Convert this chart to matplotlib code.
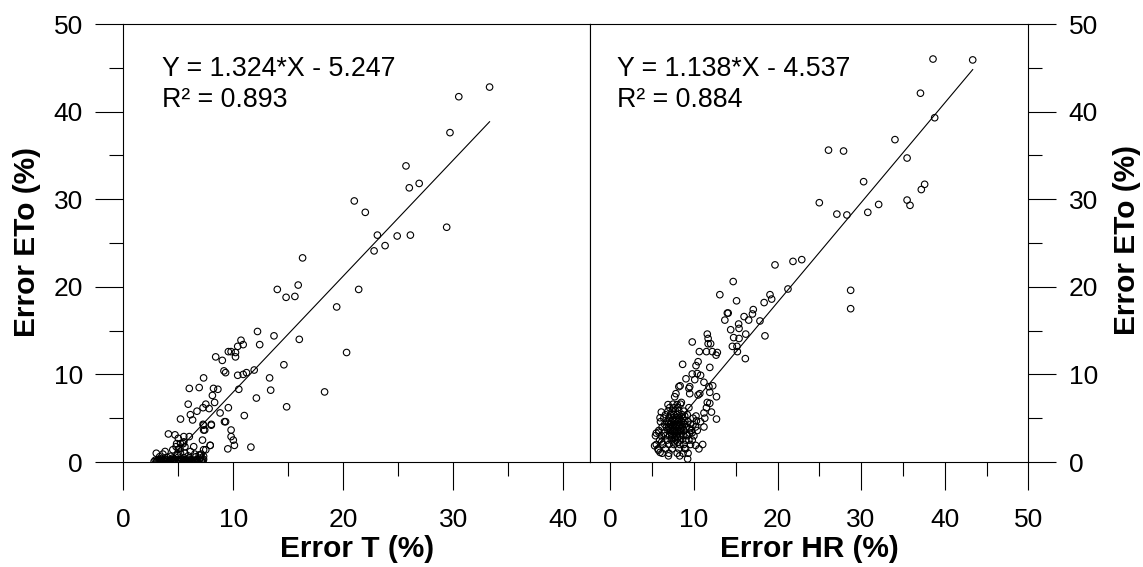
import matplotlib
matplotlib.use("Agg")
import matplotlib.pyplot as plt
from matplotlib.ticker import MultipleLocator

plt.rcParams['font.family'] = ['Liberation Sans', 'DejaVu Sans']

# Error T (%) vs Error ETo (%) - scattered points
t_scatter = [
    (33.3, 42.8), (30.5, 41.7), (29.7, 37.6), (25.7, 33.8), (26.0, 31.3), (26.9, 31.8),
    (21.0, 29.8), (22.0, 28.5), (23.1, 25.9), (24.9, 25.8), (26.1, 25.9), (29.4, 26.8),
    (23.8, 24.7), (22.8, 24.1), (16.3, 23.3), (14.0, 19.7), (14.8, 18.8), (15.6, 18.9),
    (15.9, 20.2), (21.4, 19.7), (19.4, 17.7), (12.2, 14.9), (13.7, 14.4), (16.0, 14.0),
    (12.4, 13.4), (20.3, 12.5), (10.7, 13.9), (10.4, 13.2), (10.9, 13.4), (9.55, 12.6),
    (9.8, 12.6), (10.2, 12.0), (10.2, 12.5), (8.4, 12.0), (9.0, 11.6), (14.6, 11.1),
    (9.15, 10.4), (9.3, 10.2), (10.4, 9.9), (10.9, 10.0), (11.2, 10.2), (11.9, 10.5),
    (13.3, 9.6), (13.4, 8.2), (10.5, 8.3), (12.1, 7.3), (11.0, 5.3), (14.85, 6.3),
    (18.3, 8.0), (7.3, 9.6), (6.0, 8.4), (6.9, 8.5), (8.2, 8.4), (8.6, 8.3),
    (8.1, 7.6), (5.9, 6.6), (7.5, 6.6), (8.3, 6.8), (7.25, 6.2), (6.7, 5.8),
    (7.8, 6.1), (6.1, 5.4), (5.2, 4.9), (6.3, 4.8), (8.8, 5.6), (9.55, 6.2),
    (7.25, 4.3), (8.0, 4.3), (9.2, 4.6), (9.3, 4.6), (7.4, 3.65), (7.3, 3.65),
    (9.8, 3.65), (7.2, 2.5), (9.8, 2.9), (10.0, 2.5), (10.1, 1.9), (9.5, 1.5),
    (11.6, 1.7), (7.9, 1.9), (7.5, 1.4), (7.1, 0.9), (6.4, 1.75), (6.0, 2.9),
    (4.1, 3.2), (4.7, 3.1), (5.0, 2.7), (5.5, 2.9), (4.85, 2.1), (5.2, 2.1),
    (5.5, 2.3), (5.6, 1.75), (4.8, 1.75), (4.5, 1.4), (5.0, 1.45), (5.2, 1.0),
    (3.8, 1.2), (3.0, 1.0), (5.6, 1.0), (6.5, 0.9), (6.9, 0.8), (5.45, 2.1),
    (5.15, 1.55), (6.1, 1.2), (7.3, 1.4), (7.3, 4.2), (8.0, 4.2), (7.9, 1.9),
]

# dense band near zero
t_cluster = [
    (2.8, 0.05), (2.9, 0.2), (3.0, 0.0), (3.1, 0.15), (3.2, 0.25), (3.3, 0.05),
    (3.4, 0.2), (3.5, 0.0), (3.6, 0.25), (3.7, 0.1), (3.8, 0.3), (3.9, 0.05),
    (4.0, 0.2), (4.1, 0.0), (4.2, 0.15), (4.3, 0.3), (4.4, 0.05), (4.5, 0.2),
    (4.6, 0.1), (4.7, 0.3), (4.8, 0.0), (4.9, 0.15), (5.0, 0.25), (5.1, 0.05),
    (5.2, 0.15), (5.3, 0.3), (5.4, 0.0), (5.5, 0.2), (5.6, 0.1), (5.7, 0.25),
    (5.8, 0.05), (5.9, 0.2), (6.0, 0.0), (6.1, 0.25), (6.2, 0.1), (6.3, 0.05),
    (6.4, 0.2), (6.5, 0.0), (6.6, 0.15), (6.7, 0.3), (6.8, 0.05), (6.9, 0.2),
    (7.0, 0.45), (7.1, 0.15), (7.2, 0.05), (7.3, 0.3), (3.5, 0.4), (4.5, 0.45),
    (5.0, 0.55), (4.0, 0.5), (6.0, 0.45), (7.0, 0.8), (7.3, 0.65), (3.3, 0.6),
    (4.3, 0.65), (5.5, 0.5), (6.6, 0.6), (3.6, 0.9), (4.9, 0.9), (5.9, 0.7),
    (3.05, 0.1), (3.45, 0.12), (3.85, 0.08), (4.25, 0.1), (4.65, 0.12), (5.05, 0.1),
    (5.45, 0.12), (5.85, 0.1), (6.25, 0.12), (6.65, 0.1), (7.05, 0.12), (7.25, 0.2),
]

# Error HR (%) vs Error ETo (%) - scattered points
hr_scatter = [
    (38.6, 46.0), (43.35, 45.9), (37.1, 42.1), (38.8, 39.3), (34.05, 36.8), (26.1, 35.6),
    (27.9, 35.5), (35.5, 34.7), (30.3, 32.0), (37.6, 31.7), (37.2, 31.1), (25.0, 29.6),
    (35.5, 29.9), (35.85, 29.3), (32.1, 29.4), (27.1, 28.3), (28.3, 28.2), (30.8, 28.5),
    (22.9, 23.1), (21.85, 22.9), (19.7, 22.5), (28.75, 19.6), (28.75, 17.5), (21.25, 19.75),
    (14.7, 20.6), (13.1, 19.1), (15.1, 18.4), (19.1, 19.1), (19.3, 18.6), (18.4, 18.2),
    (14.1, 17.0), (14.0, 17.0), (13.7, 16.2), (16.0, 16.6), (17.1, 17.4), (17.0, 16.9),
    (16.55, 16.2), (17.9, 16.1), (15.35, 15.75), (15.4, 15.25), (14.4, 15.1), (16.2, 14.6),
    (18.5, 14.4), (14.75, 14.2), (15.4, 14.1), (14.6, 13.2), (15.15, 13.2), (15.2, 12.6),
    (16.15, 11.8), (11.6, 14.6), (11.7, 14.1), (11.7, 13.5), (12.0, 13.5), (9.8, 13.7),
    (10.65, 12.6), (11.5, 12.6), (12.2, 12.6), (12.8, 12.5), (12.65, 12.2), (11.9, 10.8),
    (10.5, 11.45), (10.25, 11.0), (8.65, 11.15), (9.8, 10.05), (10.4, 10.1), (10.8, 9.9),
    (10.1, 9.4), (9.05, 9.5), (11.2, 9.1), (9.5, 8.6), (8.2, 8.6), (8.35, 8.7),
    (9.4, 8.4), (9.5, 7.8), (7.85, 7.8), (7.7, 7.45), (10.7, 7.8), (10.5, 7.65),
    (11.9, 7.95), (12.25, 8.7), (11.8, 8.6), (12.7, 7.45), (12.7, 4.9), (12.1, 5.7),
    (11.6, 6.8), (11.9, 6.7), (11.5, 6.2), (11.2, 5.6), (11.3, 5.0), (11.2, 4.0),
    (10.3, 4.7), (10.25, 5.25), (9.9, 4.3), (9.5, 3.8), (9.8, 3.35), (9.1, 3.1),
    (9.4, 2.5), (10.2, 1.9), (11.05, 2.0), (8.9, 1.55), (8.7, 1.0), (9.25, 0.35),
    (8.3, 0.7), (6.95, 0.7), (5.95, 1.1), (5.75, 1.35), (5.3, 1.85), (6.15, 2.3),
    (5.5, 3.3), (5.8, 3.4), (6.1, 5.7), (5.95, 5.05), (6.9, 6.55), (8.0, 6.55),
    (8.5, 6.8), (8.9, 5.25), (8.9, 4.7), (8.35, 3.65),
]

# dense blob around x 6-10, y 1-7
hr_cluster = [
    (6.2, 1.0), (7.0, 1.0), (8.0, 1.0), (9.3, 1.0),
    (5.7, 1.5), (6.6, 1.5), (7.4, 1.5), (8.2, 1.5), (9.0, 1.5), (10.6, 1.5),
    (5.5, 2.0), (6.3, 2.0), (7.0, 2.0), (7.6, 2.0), (8.3, 2.0), (8.8, 2.0), (9.6, 2.0),
    (5.9, 2.5), (6.8, 2.5), (7.3, 2.5), (7.8, 2.5), (8.4, 2.5), (9.0, 2.5), (9.8, 2.5),
    (5.4, 3.0), (6.1, 3.0), (6.6, 3.0), (7.1, 3.0), (7.5, 3.0), (7.9, 3.0), (8.3, 3.0),
    (8.7, 3.0), (9.2, 3.0), (10.0, 3.0),
    (6.4, 3.3), (7.3, 3.3), (7.7, 3.3), (8.1, 3.3), (8.5, 3.3), (9.5, 3.3),
    (5.8, 3.6), (6.9, 3.6), (7.2, 3.6), (7.6, 3.6), (8.0, 3.6), (8.4, 3.6), (8.8, 3.6),
    (9.7, 3.6), (10.4, 3.6),
    (6.2, 4.0), (6.7, 4.0), (7.0, 4.0), (7.4, 4.0), (7.8, 4.0), (8.2, 4.0), (8.6, 4.0),
    (9.1, 4.0), (10.2, 4.0),
    (6.5, 4.3), (7.2, 4.3), (7.6, 4.3), (8.0, 4.3), (8.4, 4.3), (8.9, 4.3), (9.6, 4.3),
    (6.0, 4.6), (6.8, 4.6), (7.3, 4.6), (7.7, 4.6), (8.1, 4.6), (8.5, 4.6), (9.3, 4.6),
    (10.8, 4.6),
    (6.4, 5.0), (7.0, 5.0), (7.5, 5.0), (7.9, 5.0), (8.3, 5.0), (8.7, 5.0), (9.9, 5.0),
    (6.6, 5.4), (7.2, 5.4), (7.6, 5.4), (8.0, 5.4), (8.6, 5.4), (9.2, 5.4),
    (6.9, 5.8), (7.4, 5.8), (7.8, 5.8), (8.2, 5.8), (8.8, 5.8),
    (7.1, 6.2), (7.6, 6.2), (8.1, 6.2), (9.4, 6.2),
    (7.5, 6.6), (8.4, 6.6),
    (7.35, 2.75), (7.7, 2.8), (8.05, 2.75), (7.45, 3.5), (7.85, 3.45), (8.25, 3.5),
    (7.5, 4.15), (7.9, 4.15), (8.3, 4.2), (7.45, 4.8), (7.85, 4.8), (8.2, 4.85),
    (7.65, 2.3), (8.05, 2.25), (7.15, 3.8), (8.55, 3.85), (7.0, 4.45), (8.75, 4.45),
]

# regression fits (slope, intercept, x range of line)
t_fit = (1.324, -5.247, 3.96, 33.3)
hr_fit = (1.138, -4.537, 5.5, 43.35)
t_text = ["Y = 1.324*X - 5.247", "R\u00b2 = 0.893"]
hr_text = ["Y = 1.138*X - 4.537", "R\u00b2 = 0.884"]

W, H = 1143, 567
fig = plt.figure(figsize=(W / 100, H / 100), dpi=100)
ax1 = fig.add_axes([123.3 / W, 1 - 462 / H, (590 - 123.3) / W, 438 / H])
ax2 = fig.add_axes([590 / W, 1 - 462 / H, (1028.3 - 590) / W, 438 / H])


def draw_panel(ax, pts, fit, lines, tx):
    xs = [p[0] for p in pts]
    ys = [p[1] for p in pts]
    ax.scatter(xs, ys, s=22, facecolors='none', edgecolors='black', linewidths=0.8, zorder=3)
    a, b, x0, x1 = fit
    ax.plot([x0, x1], [a * x0 + b, a * x1 + b], color='black', lw=0.8, zorder=2)
    ax.text(tx, 44.1, lines[0], fontsize=19.3, va='baseline', ha='left')
    ax.text(tx, 40.5, lines[1], fontsize=19.3, va='baseline', ha='left')
    ax.set_ylim(0, 50)
    ax.xaxis.set_major_locator(MultipleLocator(10))
    ax.xaxis.set_minor_locator(MultipleLocator(5))
    ax.yaxis.set_major_locator(MultipleLocator(10))
    ax.yaxis.set_minor_locator(MultipleLocator(5))
    ax.tick_params(which='major', direction='out', length=20, width=0.8, labelsize=19)
    ax.tick_params(which='minor', direction='out', length=10, width=0.8)
    ax.tick_params(axis='x', which='major', pad=13)
    for s in ax.spines.values():
        s.set_linewidth(0.8)


draw_panel(ax1, t_scatter + t_cluster, t_fit, t_text, 3.5)
draw_panel(ax2, hr_scatter + hr_cluster, hr_fit, hr_text, 0.77)

ax1.set_xlim(0, 42.43)
ax2.set_xlim(-2.43, 50)
ax1.tick_params(axis='y', which='both', left=True, right=False, pad=9)
ax2.tick_params(axis='y', which='both', left=False, right=True, labelleft=False, labelright=True, pad=9)

fig.text(356.6 / W, 1 - 549 / H, "Error T (%)", fontsize=21.5, fontweight='bold', ha='center', va='center')
fig.text(809 / W, 1 - 549 / H, "Error HR (%)", fontsize=21.5, fontweight='bold', ha='center', va='center')
fig.text(27.5 / W, 1 - 242 / H, "Error ETo (%)", fontsize=21.5, fontweight='bold',
         rotation=90, ha='center', va='center')
fig.text(1127 / W, 1 - 240 / H, "Error ETo (%)", fontsize=21.5, fontweight='bold',
         rotation=90, ha='center', va='center')

fig.savefig("out.png", dpi=100)
